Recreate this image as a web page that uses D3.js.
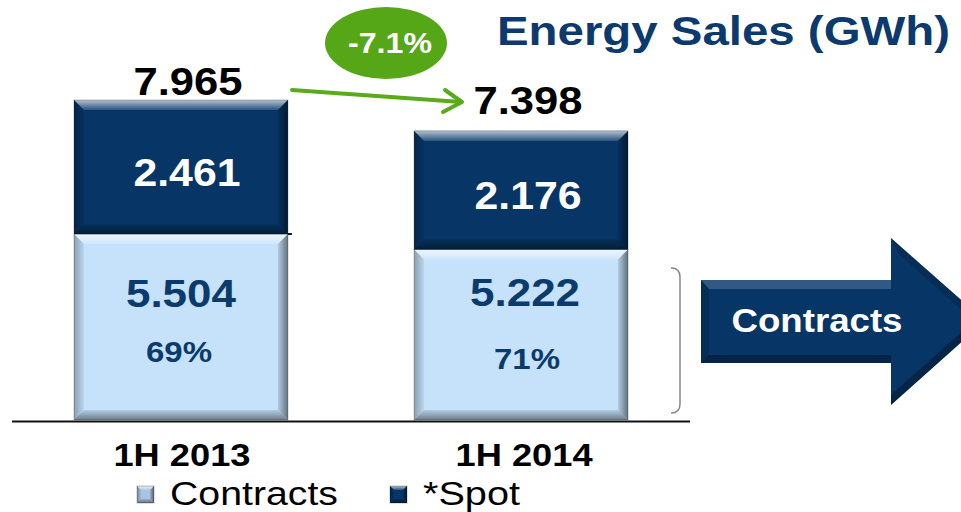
<!DOCTYPE html>
<html>
<head>
<meta charset="utf-8">
<script src="https://cdn.jsdelivr.net/npm/d3@7/dist/d3.min.js"></script>
<style>
html,body{margin:0;padding:0;background:#fff;}
svg{display:block;font-family:"Liberation Sans",Arial,sans-serif;}
</style>
</head>
<body>
<svg id="chart" width="961" height="512"></svg>
<script>
const categories = ["1H 2013", "1H 2014"];
const contracts = [5.504, 5.222];
const spot = [2.461, 2.176];
const totals = [7.965, 7.398];
const contractShares = ["69%", "71%"];
const seriesNames = ["Contracts", "*Spot"];
const changeLabel = "-7.1%";
const title = "Energy Sales (GWh)";
const arrowLabel = "Contracts";

const svg = d3.select("#chart");
const defs = svg.append("defs");

const x = d3.scaleBand().domain(categories).range([74, 628]).paddingInner(0.371).paddingOuter(0);
const y = d3.scaleLinear().domain([2.09, 7.965]).range([420, 100]).clamp(true);

const navy = "#063566";
const light = "#c6e2fb";
const textNavy = "#0b3a6c";

function vgrad(id, stops, horiz) {
  const g = defs.append("linearGradient").attr("id", id)
    .attr("x1", 0).attr("y1", 0).attr("x2", horiz ? 1 : 0).attr("y2", horiz ? 0 : 1);
  stops.forEach(s => g.append("stop").attr("offset", s[0]).attr("stop-color", s[1]).attr("stop-opacity", s[2] === undefined ? 1 : s[2]));
}
vgrad("sideL", [[0, "#000", 0.3], [1, "#000", 0.05]], true);
vgrad("sideR", [[0, "#000", 0.1], [1, "#000", 0.5]], true);
vgrad("topHi", [[0, "#fff", 0.7], [1, "#fff", 0.15]]);
vgrad("botSh", [[0, "#000", 0.1], [1, "#000", 0.45]]);

function bevelRect(g, x0, y0, w, h, fill, b) {
  g.append("rect").attr("x", x0).attr("y", y0).attr("width", w).attr("height", h).attr("fill", fill);
  g.append("path").attr("d", `M${x0},${y0}L${x0 + w},${y0}L${x0 + w - b},${y0 + b}L${x0 + b},${y0 + b}Z`).attr("fill", "url(#topHi)");
  g.append("path").attr("d", `M${x0},${y0 + h}L${x0 + w},${y0 + h}L${x0 + w - b},${y0 + h - b}L${x0 + b},${y0 + h - b}Z`).attr("fill", "url(#botSh)");
  g.append("path").attr("d", `M${x0},${y0}L${x0 + b},${y0 + b}L${x0 + b},${y0 + h - b}L${x0},${y0 + h}Z`).attr("fill", "url(#sideL)");
  g.append("path").attr("d", `M${x0 + w},${y0}L${x0 + w - b},${y0 + b}L${x0 + w - b},${y0 + h - b}L${x0 + w},${y0 + h}Z`).attr("fill", "url(#sideR)");
  g.append("rect").attr("x", x0).attr("y", y0).attr("width", w).attr("height", h).attr("fill", "none").attr("stroke", "#000").attr("stroke-opacity", 0.25).attr("stroke-width", 1);
}

function txt(g, tx, ty, str, size, fill, len, weight) {
  const t = g.append("text").attr("x", tx).attr("y", ty).attr("font-size", size).attr("fill", fill)
    .attr("font-weight", weight || "bold").text(str);
  if (len) t.attr("textLength", len).attr("lengthAdjust", "spacingAndGlyphs");
  return t;
}

const bars = svg.append("g");
categories.forEach((c, i) => {
  const g = bars.append("g");
  const x0 = x(c), w = x.bandwidth();
  const yc = y(contracts[i]);
  bevelRect(g, x0, yc, w, y(0) - yc, light, 10);
  const ys = y(contracts[i] + spot[i]);
  bevelRect(g, x0, ys, w, yc - ys, navy, 10);
});

svg.append("line").attr("x1", 12).attr("x2", 690).attr("y1", 421.5).attr("y2", 421.5).attr("stroke", "#111").attr("stroke-width", 2);

svg.append("line").attr("x1", x(categories[0]) + x.bandwidth()).attr("x2", x(categories[0]) + x.bandwidth() + 4)
  .attr("y1", y(contracts[0])).attr("y2", y(contracts[0])).attr("stroke", "#111").attr("stroke-width", 2);

const labels = svg.append("g").attr("text-anchor", "middle");
categories.forEach((c, i) => {
  const cx = x(c) + x.bandwidth() / 2;
  const yc = y(contracts[i]);
  const ys = y(contracts[i] + spot[i]);
  txt(labels, cx + [7, 7][i], ys - [5, 17][i], d3.format(".3f")(totals[i]), 38, "#000", 109);
  txt(labels, cx + [6, 7][i], (ys + yc) / 2 + 19, d3.format(".3f")(spot[i]), 39, "#fff", 107);
  txt(labels, cx + [0, 4][i], [307, 306][i], d3.format(".3f")(contracts[i]), 39, textNavy, 110);
  txt(labels, cx + [-2, 6][i], [362, 369][i], contractShares[i], 30, textNavy, 66);
  txt(labels, cx + [1, 3][i], 466, c, 32, "#000", 137);
});

txt(svg, 497, 45, title, 41, "#0d3a6e", 453).attr("text-anchor", "start");

svg.append("ellipse").attr("cx", 386).attr("cy", 43).attr("rx", 61).attr("ry", 36).attr("fill", "#56a717");
txt(svg, 390, 53, changeLabel, 29, "#fff", 84).attr("text-anchor", "middle");

const ga = svg.append("g").attr("stroke", "#5aab1c").attr("stroke-width", 4).attr("fill", "none").attr("stroke-linecap", "round").attr("stroke-linejoin", "round");
ga.append("line").attr("x1", 292).attr("y1", 90).attr("x2", 461).attr("y2", 102);
ga.append("path").attr("d", "M445,90 L462,102 L443,112");

svg.append("path").attr("d", "M671,268 Q680,268 680,277 L680,404 Q680,413 671,413")
  .attr("fill", "none").attr("stroke", "#888").attr("stroke-width", 1.5);

const ag = svg.append("g");
ag.append("path").attr("d", "M701,280 L891,280 L891,238 L985,321 L891,405 L891,363 L701,363 Z").attr("fill", navy);
ag.append("path").attr("d", "M701,280 L891,280 L891,289 L709,289 Z").attr("fill", "#fff").attr("opacity", 0.18);
ag.append("path").attr("d", "M701,280 L709,289 L709,355 L701,363 Z").attr("fill", "#000").attr("opacity", 0.15);
ag.append("path").attr("d", "M701,363 L891,363 L891,355 L709,355 Z").attr("fill", "#000").attr("opacity", 0.3);
ag.append("path").attr("d", "M891,405 L985,321 L974,321 L891,395 Z").attr("fill", "#000").attr("opacity", 0.3);
ag.append("path").attr("d", "M891,238 L985,321 L974,321 L899,254 Z").attr("fill", "#000").attr("opacity", 0.15);
txt(ag, 817, 332, arrowLabel, 33, "#fff", 171).attr("text-anchor", "middle");

const leg = svg.append("g");
const legX = [137, 390];
const legLen = [168, 97];
const legFill = ["#a9c4e0", navy];
seriesNames.forEach((n, i) => {
  const gg = leg.append("g");
  bevelRect(gg, legX[i], 486, 17, 17, legFill[i], 4);
  txt(gg, legX[i] + 33, 505, n, 34, "#000", legLen[i], "normal");
});
</script>
</body>
</html>
